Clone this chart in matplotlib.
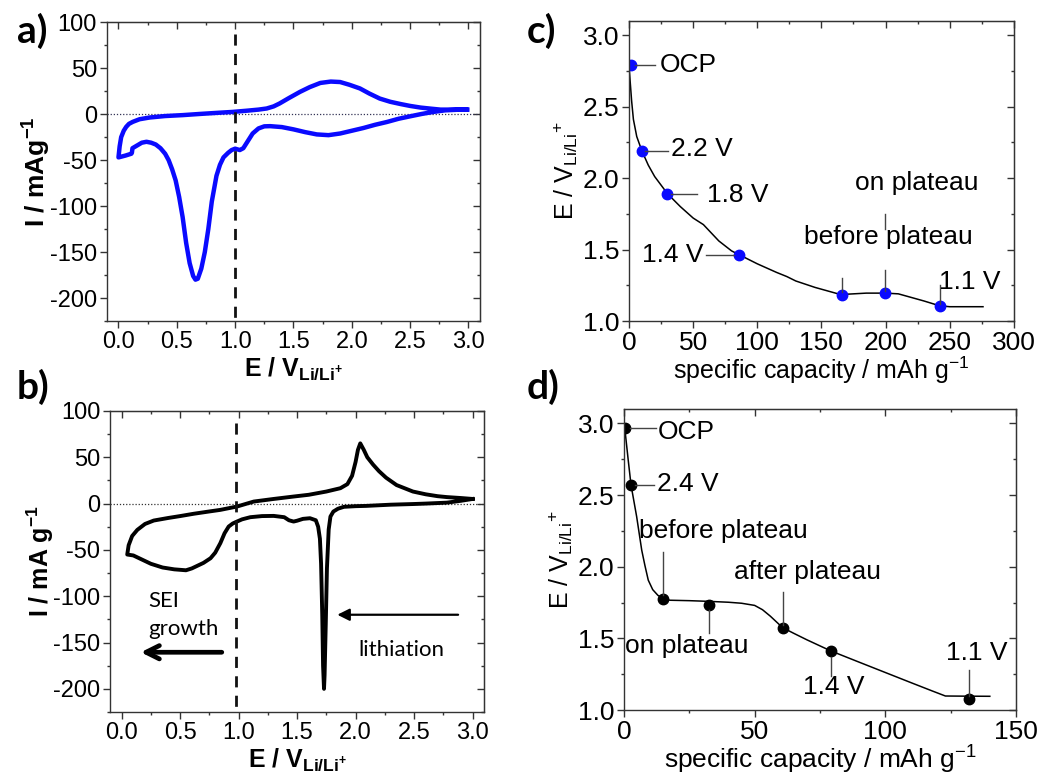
import matplotlib
matplotlib.use('Agg')
import matplotlib.pyplot as plt
from matplotlib.ticker import MultipleLocator

plt.rcParams['font.family'] = ['Liberation Sans', 'DejaVu Sans']
plt.rcParams['mathtext.fontset'] = 'custom'
plt.rcParams['mathtext.rm'] = 'Liberation Sans'
plt.rcParams['mathtext.it'] = 'Liberation Sans:italic'
plt.rcParams['mathtext.bf'] = 'Liberation Sans:bold'
plt.rcParams['axes.unicode_minus'] = False

# ---- panel a: CV (blue) ----
a_cath_E = [2.98, 2.9, 2.8, 2.7, 2.6, 2.5, 2.4, 2.3, 2.2, 2.1, 2.0, 1.9, 1.8, 1.7, 1.6, 1.5,
            1.4, 1.3, 1.25, 1.2, 1.15, 1.1, 1.07, 1.04, 1.0, 0.97, 0.94, 0.9, 0.87, 0.84, 0.8,
            0.77, 0.74, 0.71, 0.68, 0.66, 0.64, 0.61, 0.58, 0.55, 0.52, 0.49, 0.46, 0.43, 0.4,
            0.36, 0.32, 0.28, 0.24, 0.2, 0.16, 0.12, 0.115, 0.11, 0.06, 0.0]
a_cath_I = [5, 4.8, 4.2, 2.5, 0.3, -2.3, -5, -8.5, -11.5, -15, -18, -21, -22.8, -22, -19.5, -16.5,
            -14, -13, -13.2, -15.5, -21, -31, -37, -39, -37.5, -39, -42, -47, -55, -67, -95,
            -125, -150, -168, -179, -180, -176, -162, -140, -112, -90, -72, -60, -50, -43,
            -37, -33, -31, -30, -31, -34, -37, -42, -43, -45, -47]
a_anod_E = [0.0, 0.01, 0.023, 0.045, 0.066, 0.09, 0.123, 0.18, 0.267, 0.4, 0.55, 0.7, 0.85, 0.98,
            1.1, 1.2, 1.27, 1.33, 1.38, 1.46, 1.556, 1.64, 1.73, 1.82, 1.9, 1.98, 2.07, 2.15,
            2.24, 2.33, 2.42, 2.5, 2.59, 2.68, 2.76, 2.88, 2.99]
a_anod_I = [-47, -35, -25, -18, -13.8, -10.5, -8.3, -5.5, -3.6, -2, -1, 0.3, 1.5, 2.5,
            3.8, 5, 6.2, 8.5, 11.6, 17.5, 24.3, 29.5, 34, 35.5, 35, 32, 28, 22.5,
            17, 13.5, 11, 9, 7.2, 6, 5, 5, 5]

# ---- panel b: CV (black) ----
b_cath_E = [3.0, 2.9, 2.78, 2.6, 2.49, 2.3, 2.09, 2.0, 1.9, 1.85, 1.81, 1.785, 1.77, 1.755, 1.745,
            1.735, 1.73, 1.722, 1.715, 1.705, 1.695, 1.68, 1.66, 1.61, 1.55, 1.5, 1.47, 1.43,
            1.39, 1.3, 1.2, 1.1, 1.03, 0.986, 0.95, 0.915, 0.88, 0.844, 0.8, 0.76, 0.7, 0.6,
            0.55, 0.45, 0.35, 0.25, 0.15, 0.1, 0.048]
b_cath_I = [5, 3, 1, 0, -0.5, -1.2, -2.5, -2.8, -3.5, -5.5, -8.6, -14, -28, -70, -130,
            -185, -200, -175, -120, -65, -38, -25, -18, -15.8, -16.5, -18.5, -19.4, -18,
            -14.7, -13.3, -13.5, -14.7, -17, -19.4, -21.5, -24.8, -32, -42.7, -53, -59, -64, -70,
            -72, -71, -69, -65, -59, -56, -55]
b_anod_E = [0.048, 0.06, 0.09, 0.134, 0.2, 0.275, 0.4, 0.5, 0.616, 0.75, 0.844, 0.986, 1.13,
            1.3, 1.47, 1.6, 1.75, 1.87, 1.93, 1.97, 2.0, 2.02, 2.04, 2.07, 2.1, 2.15, 2.2,
            2.26, 2.35, 2.49, 2.6, 2.7, 2.78, 2.9, 3.0]
b_anod_I = [-55, -45, -35, -28.4, -22, -18.3, -15.5, -13.5, -11, -8.5, -6.8, -3.2, 2.2,
            5, 7.6, 9.5, 13, 16.6, 21, 30, 45, 58, 65, 58, 50, 42, 35,
            28, 20, 13, 10, 8, 7, 6, 5]

# ---- panel c: discharge curve (blue points) ----
c_Q = [0, 0.5, 1, 2, 3.4, 6, 10, 15, 20, 25, 30, 40, 50, 58, 70, 80, 86, 100, 115, 123,
       130, 145, 155, 165, 175, 185, 200, 210, 220, 230, 242, 250, 260, 276]
c_E = [2.78, 2.72, 2.66, 2.54, 2.41, 2.29, 2.19, 2.09, 2.01, 1.95, 1.89, 1.80, 1.72, 1.674,
       1.56, 1.49, 1.463, 1.40, 1.34, 1.311, 1.28, 1.235, 1.21, 1.185, 1.19, 1.195, 1.195,
       1.19, 1.165, 1.14, 1.107, 1.10, 1.10, 1.10]
c_pt_Q = [1.3, 9.9, 29.6, 86, 165.7, 199.8, 242.3]
c_pt_E = [2.79, 2.19, 1.89, 1.463, 1.185, 1.194, 1.107]

# ---- panel d: discharge curve (black points) ----
d_Q = [0, 0.4, 1.65, 2.7, 4.85, 6.8, 8, 9.3, 11, 13, 14.8, 17.6, 25, 32.7, 40, 45, 50, 53,
       56, 60.7, 65, 70, 79.1, 90, 100, 110, 118, 123, 130, 140]
d_E = [2.97, 2.95, 2.74, 2.57, 2.35, 2.115, 2.01, 1.906, 1.84, 1.80, 1.78, 1.766, 1.763,
       1.758, 1.752, 1.745, 1.73, 1.70, 1.655, 1.575, 1.535, 1.49, 1.413, 1.334, 1.262,
       1.19, 1.133, 1.098, 1.097, 1.096]
d_pt_Q = [0.5, 2.7, 14.8, 32.7, 60.7, 79.1, 132]
d_pt_E = [2.967, 2.568, 1.778, 1.736, 1.569, 1.413, 1.077]

TICK_C = '#333333'


def style_axes(ax, xmaj, xmin, ymaj, ymin, size):
    ax.xaxis.set_major_locator(MultipleLocator(xmaj))
    ax.xaxis.set_minor_locator(MultipleLocator(xmin))
    ax.yaxis.set_major_locator(MultipleLocator(ymaj))
    ax.yaxis.set_minor_locator(MultipleLocator(ymin))
    ax.tick_params(which='both', direction='out', top=False, right=False,
                   labelsize=size, color=TICK_C, pad=2)
    ax.tick_params(which='major', length=5, width=1)
    ax.tick_params(which='minor', length=2.5, width=1)
    for s in ax.spines.values():
        s.set_color(TICK_C)
        s.set_linewidth(1)
    top = ax.secondary_xaxis('top')
    top.xaxis.set_major_locator(MultipleLocator(xmaj))
    top.xaxis.set_minor_locator(MultipleLocator(xmin))
    top.tick_params(which='both', direction='in', labeltop=False, color=TICK_C)
    top.tick_params(which='major', length=5, width=1)
    top.tick_params(which='minor', length=2.5, width=1)
    rgt = ax.secondary_yaxis('right')
    rgt.yaxis.set_major_locator(MultipleLocator(ymaj))
    rgt.yaxis.set_minor_locator(MultipleLocator(ymin))
    rgt.tick_params(which='both', direction='in', labelright=False, color=TICK_C)
    rgt.tick_params(which='major', length=5, width=1)
    rgt.tick_params(which='minor', length=2.5, width=1)
    for sec in (top, rgt):
        for s in sec.spines.values():
            s.set_color(TICK_C)


fig = plt.figure(figsize=(10.37, 7.82), dpi=100)
ax_a = fig.add_axes([0.103, 0.5895, 0.360, 0.382])
ax_b = fig.add_axes([0.106, 0.0895, 0.361, 0.385])
ax_c = fig.add_axes([0.6066, 0.5895, 0.371, 0.384])
ax_d = fig.add_axes([0.6017, 0.092, 0.378, 0.385])

cv_xlabel = r'$\mathbf{E\ /\ V_{Li/Li^{+}}}$'
CV_TICK = 17
CV_LAB = 18

# panel a
ax_a.axhline(0, color='#333355', lw=0.9, ls=(0, (1, 1.5)))
ax_a.plot(a_cath_E + a_anod_E, a_cath_I + a_anod_I, color='#0a0aff', lw=3.2,
          solid_joinstyle='round')
ax_a.plot([1.0, 1.0], [87, -225], color='#111111', lw=2, dashes=(4, 3))
ax_a.set_xlim(-0.1, 3.1)
ax_a.set_ylim(-225, 100)
style_axes(ax_a, 0.5, 0.25, 50, 25, CV_TICK)
ax_a.set_xlabel(cv_xlabel, fontsize=CV_LAB, labelpad=2)
ax_a.set_ylabel(r'$\mathbf{I\ /\ mAg^{-1}}$', fontsize=CV_LAB + 1, labelpad=-2)

# panel b
ax_b.axhline(0, color='#333333', lw=0.9, ls=(0, (1, 1.5)))
ax_b.plot(b_cath_E + b_anod_E, b_cath_I + b_anod_I, color='black', lw=2.8,
          solid_joinstyle='round')
ax_b.plot([0.98, 0.98], [87, -225], color='#111111', lw=2, dashes=(4, 3))
ax_b.set_xlim(-0.1, 3.1)
ax_b.set_ylim(-225, 100)
style_axes(ax_b, 0.5, 0.25, 50, 25, CV_TICK)
ax_b.set_xlabel(cv_xlabel, fontsize=CV_LAB, labelpad=2)
ax_b.set_ylabel(r'$\mathbf{I\ /\ mA\ g^{-1}}$', fontsize=CV_LAB, labelpad=-2)
ax_b.text(0.23, -105.7, 'SEI', family='Lato', fontsize=16, va='center', ha='left')
ax_b.text(0.23, -135, 'growth', family='Lato', fontsize=16, va='center', ha='left')
ax_b.text(2.39, -157.8, 'lithiation', family='Lato', fontsize=16, va='center', ha='center')
ax_b.annotate('', xy=(0.14, -160.5), xytext=(0.88, -160.5),
              arrowprops=dict(arrowstyle='->', lw=3.4, color='black', mutation_scale=24))
ax_b.annotate('', xy=(1.82, -120), xytext=(2.90, -120),
              arrowprops=dict(arrowstyle='-|>', lw=1.6, color='black', mutation_scale=18))

# panel c
cap_xlabel = r'specific capacity / mAh g$^{-1}$'
cap_ylabel = r'E / V$_{\mathrm{Li/Li}}{}^{+}$'
ANN = 19
CAP_TICK = 19
LEAD = '#444444'
ax_c.plot(c_Q, c_E, color='black', lw=1.1)
ax_c.plot(c_pt_Q, c_pt_E, 'o', color='#0a0aff', ms=7.5)
ax_c.plot([4.7, 20.3], [2.79, 2.79], color=LEAD, lw=1)
ax_c.text(24, 2.79, 'OCP', fontsize=ANN, va='center', ha='left')
ax_c.plot([12.5, 30], [2.19, 2.19], color=LEAD, lw=1)
ax_c.text(33, 2.2, '2.2 V', fontsize=ANN, va='center', ha='left')
ax_c.plot([33, 52.7], [1.89, 1.89], color=LEAD, lw=1)
ax_c.text(61, 1.88, '1.8 V', fontsize=ANN, va='center', ha='left')
ax_c.plot([60, 81.5], [1.46, 1.46], color=LEAD, lw=1)
ax_c.text(58.4, 1.46, '1.4 V', fontsize=ANN, va='center', ha='right')
ax_c.plot([165.7, 165.7], [1.30, 1.20], color=LEAD, lw=1)
ax_c.text(202, 1.587, 'before plateau', fontsize=ANN, va='center', ha='center')
ax_c.plot([199.8, 199.8], [1.75, 1.645], color=LEAD, lw=1)
ax_c.plot([199.8, 199.8], [1.36, 1.21], color=LEAD, lw=1)
ax_c.text(224.7, 1.966, 'on plateau', fontsize=ANN, va='center', ha='center')
ax_c.plot([242.3, 242.3], [1.25, 1.12], color=LEAD, lw=1)
ax_c.text(266, 1.276, '1.1 V', fontsize=ANN, va='center', ha='center')
ax_c.set_xlim(0, 300)
ax_c.set_ylim(1.0, 3.1)
style_axes(ax_c, 50, 25, 0.5, 0.25, CAP_TICK)
ax_c.set_xlabel(cap_xlabel, fontsize=18, labelpad=0)
ax_c.set_ylabel(cap_ylabel, fontsize=18, labelpad=2)

# panel d
ax_d.plot(d_Q, d_E, color='black', lw=1.1)
ax_d.plot(d_pt_Q, d_pt_E, 'o', color='black', ms=7.5)
ax_d.plot([2.5, 12.1], [2.967, 2.967], color=LEAD, lw=1)
ax_d.text(13.1, 2.94, 'OCP', fontsize=ANN, va='center', ha='left')
ax_d.plot([4.4, 11.5], [2.568, 2.568], color=LEAD, lw=1)
ax_d.text(12.8, 2.58, '2.4 V', fontsize=ANN, va='center', ha='left')
ax_d.plot([14.8, 14.8], [2.10, 1.80], color=LEAD, lw=1)
ax_d.text(38, 2.25, 'before plateau', fontsize=ANN, va='center', ha='center')
ax_d.plot([32.7, 32.7], [1.70, 1.54], color=LEAD, lw=1)
ax_d.text(24.2, 1.448, 'on plateau', fontsize=ANN, va='center', ha='center')
ax_d.plot([60.7, 60.7], [1.82, 1.59], color=LEAD, lw=1)
ax_d.text(70.3, 1.96, 'after plateau', fontsize=ANN, va='center', ha='center')
ax_d.plot([79.1, 79.1], [1.37, 1.24], color=LEAD, lw=1)
ax_d.text(80.1, 1.163, '1.4 V', fontsize=ANN, va='center', ha='center')
ax_d.plot([132, 132], [1.28, 1.10], color=LEAD, lw=1)
ax_d.text(135, 1.395, '1.1 V', fontsize=ANN, va='center', ha='center')
ax_d.set_xlim(0, 150)
ax_d.set_ylim(1.0, 3.1)
style_axes(ax_d, 50, 25, 0.5, 0.25, CAP_TICK)
ax_d.set_xlabel(cap_xlabel, fontsize=19, labelpad=0)
ax_d.set_ylabel(cap_ylabel, fontsize=18, labelpad=2)

# panel letters
for lab, x, y in [('a)', 0.016, 0.960), ('b)', 0.016, 0.505),
                  ('c)', 0.508, 0.960), ('d)', 0.508, 0.505)]:
    fig.text(x, y, lab, fontsize=28, fontweight='bold', family='Lato',
             ha='left', va='center')

fig.savefig('out.png', dpi=100)
